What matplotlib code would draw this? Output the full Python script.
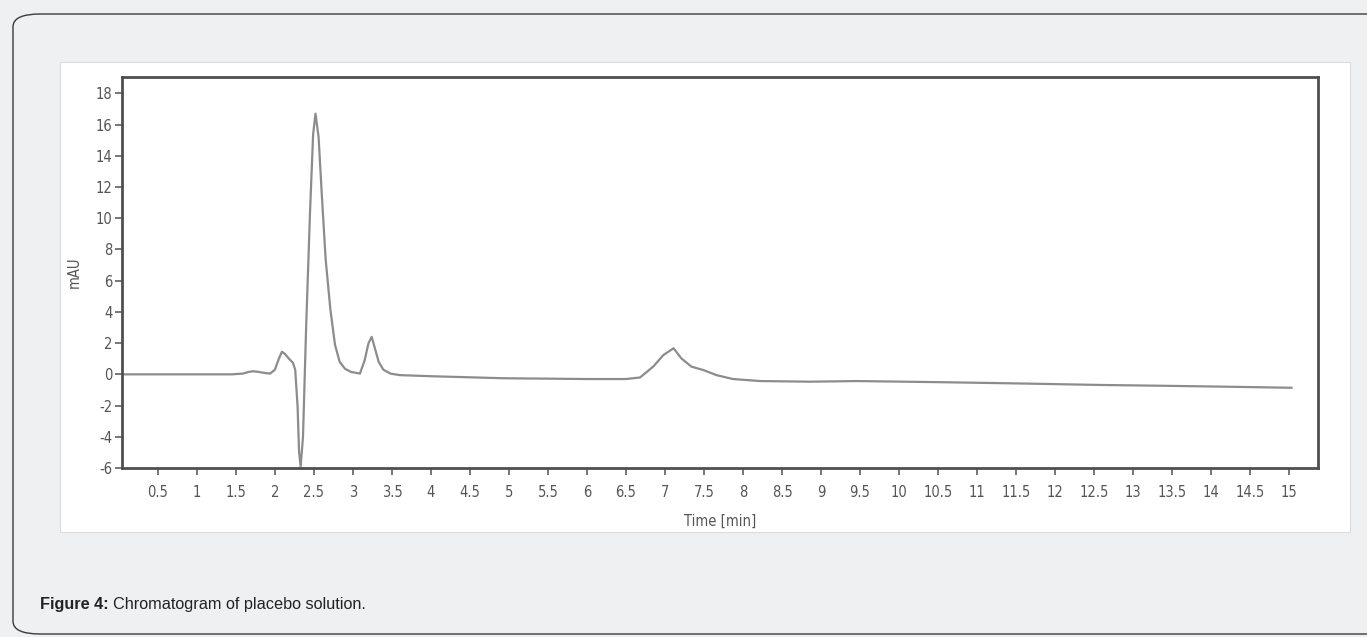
import matplotlib
matplotlib.use("Agg")
import matplotlib.pyplot as plt
from matplotlib.patches import FancyBboxPatch, Rectangle

plt.rcParams["axes.unicode_minus"] = False

# chromatogram trace (time in min, signal in mAU)
time_min = [0.04, 0.5, 1.0, 1.45, 1.59, 1.66, 1.72, 1.8, 1.88, 1.94, 2.0, 2.05,
            2.09, 2.13, 2.18, 2.23, 2.26, 2.29, 2.31, 2.33, 2.36, 2.4, 2.45,
            2.49, 2.52, 2.56, 2.6, 2.65, 2.71, 2.77, 2.83, 2.9, 2.98, 3.09,
            3.15, 3.2, 3.24, 3.28, 3.33, 3.39, 3.48, 3.6, 4.0, 4.93, 6.0, 6.5,
            6.68, 6.85, 6.98, 7.11, 7.21, 7.34, 7.49, 7.66, 7.87, 8.22, 8.86,
            9.46, 10.5, 11.5, 12.58, 13.5, 14.3, 15.03]
signal_mau = [0.0, 0.0, 0.0, 0.0, 0.05, 0.15, 0.2, 0.15, 0.08, 0.05, 0.3, 1.0,
              1.45, 1.3, 1.0, 0.75, 0.3, -2.0, -5.0, -5.9, -4.0, 3.0, 10.4,
              15.4, 16.7, 15.2, 11.6, 7.4, 4.2, 1.9, 0.8, 0.35, 0.15, 0.05,
              0.9, 2.0, 2.4, 1.7, 0.8, 0.3, 0.05, -0.05, -0.12, -0.25, -0.3, -0.3,
              -0.2, 0.5, 1.24, 1.67, 1.02, 0.49, 0.28, -0.05, -0.3, -0.43, -0.47,
              -0.43, -0.5, -0.58, -0.68, -0.74, -0.8, -0.86]

x_ticks = [0.5, 1, 1.5, 2, 2.5, 3, 3.5, 4, 4.5, 5, 5.5, 6, 6.5, 7, 7.5, 8, 8.5, 9,
           9.5, 10, 10.5, 11, 11.5, 12, 12.5, 13, 13.5, 14, 14.5, 15]
x_labels = ["0.5", "1", "1.5", "2", "2.5", "3", "3.5", "4", "4.5", "5", "5.5", "6",
            "6.5", "7", "7.5", "8", "8.5", "9", "9.5", "10", "10.5", "11", "11.5",
            "12", "12.5", "13", "13.5", "14", "14.5", "15"]
y_ticks = [-6, -4, -2, 0, 2, 4, 6, 8, 10, 12, 14, 16, 18]

W, H = 1367, 637
fig = plt.figure(figsize=(W / 100, H / 100), dpi=100)
fig.patch.set_facecolor("#eef0f2")

# rounded panel and the white scanned area (behind the axes)
panel = FancyBboxPatch((13 / W, 3 / H), 1400 / W, 620 / H,
                       boxstyle="round,pad=0,rounding_size=0.02",
                       transform=fig.transFigure, facecolor="#eef0f2",
                       edgecolor="#3a3a3a", linewidth=1.0, zorder=-3)
fig.patches.append(panel)
scan = Rectangle((60 / W, (H - 532) / H), 1290 / W, 470 / H,
                 transform=fig.transFigure, facecolor="white",
                 edgecolor="#dcdcdc", linewidth=0.8, zorder=-2)
fig.patches.append(scan)

ax_l, ax_r, ax_t, ax_b = 122, 1318, 77, 468
ax = fig.add_axes([ax_l / W, (H - ax_b) / H, (ax_r - ax_l) / W, (ax_b - ax_t) / H])
ax.set_facecolor("white")
ax.plot(time_min, signal_mau, color="#8c8c8c", linewidth=1.6)

ax.set_xlim(0.04, 15.37)
ax.set_ylim(-6, 19.05)
ax.set_xticks(x_ticks)
ax.set_xticklabels(x_labels)
ax.set_yticks(y_ticks)

tick_family = ["DejaVu Sans", "Liberation Sans"]
for lab in ax.get_xticklabels() + ax.get_yticklabels():
    lab.set_fontfamily(tick_family)
    lab.set_fontstretch("condensed")
    lab.set_fontsize(10.5)
    lab.set_color("#555555")
ax.tick_params(axis="x", direction="out", length=5, width=1.2, color="#606060", pad=7)
ax.tick_params(axis="y", direction="out", length=5, width=1.2, color="#606060", pad=2)

for s in ax.spines.values():
    s.set_color("#4f4f4f")
    s.set_linewidth(2.0)

ax.set_xlabel("Time [min]", fontfamily=tick_family, fontstretch="condensed",
              fontsize=10.5, color="#555555", labelpad=10)
ax.set_ylabel("mAU", fontfamily=tick_family, fontstretch="condensed",
              fontsize=10.5, color="#555555", labelpad=10)

# caption: bold prefix + regular text
cap_y = 1 - 604 / H
t1 = fig.text(40 / W, cap_y, "Figure 4:", fontfamily="Liberation Sans",
              fontweight="bold", fontsize=11.7, color="#222222", va="center")
fig.canvas.draw()
bb = t1.get_window_extent()
fig.text((bb.x1 + 4) / W, cap_y, "Chromatogram of placebo solution.",
         fontfamily="Liberation Sans", fontsize=11.7, color="#222222", va="center")

fig.savefig("out.png", dpi=100, facecolor=fig.get_facecolor())
